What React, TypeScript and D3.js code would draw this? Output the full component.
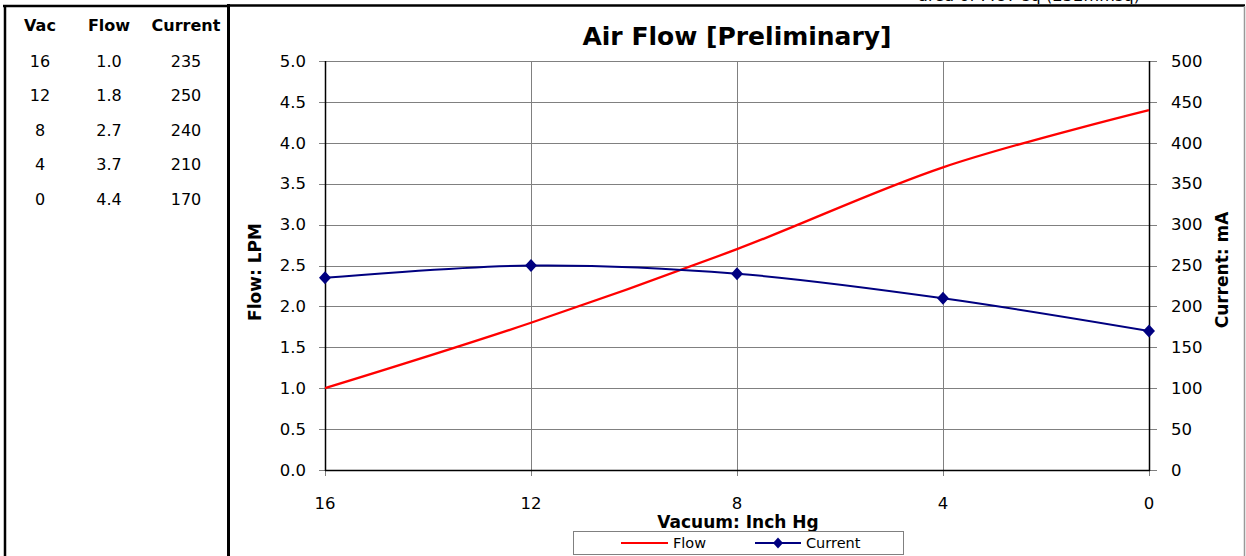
import React from "react";
import * as d3 from "d3";

// chart data
const vacuum = [16, 12, 8, 4, 0];
const flow = [1.0, 1.8, 2.7, 3.7, 4.4];
const current = [235, 250, 240, 210, 170];

const flowTicks = [0, 0.5, 1, 1.5, 2, 2.5, 3, 3.5, 4, 4.5, 5];
const currentTicks = [0, 50, 100, 150, 200, 250, 300, 350, 400, 450, 500];
const vacTicks = [16, 12, 8, 4, 0];

const tableHead = ["Vac", "Flow", "Current"];

const W = 1246;
const H = 556;
const FONT = "'DejaVu Sans', Verdana, sans-serif";

export default function App() {
  const x = d3.scaleLinear().domain([16, 0]).range([325, 1149]);
  const yFlow = d3.scaleLinear().domain([0, 5]).range([470, 61]);
  const yCur = d3.scaleLinear().domain([0, 500]).range([470, 61]);

  const smooth = d3.curveCatmullRom.alpha(0);
  const flowLine = d3
    .line<number>()
    .x((d, i) => x(vacuum[i]))
    .y(d => yFlow(d))
    .curve(smooth);
  const curLine = d3
    .line<number>()
    .x((d, i) => x(vacuum[i]))
    .y(d => yCur(d))
    .curve(smooth);

  const diamond = (cx: number, cy: number, r = 6) =>
    `M${cx},${cy - r - 0.5}L${cx + r},${cy}L${cx},${cy + r + 0.5}L${cx - r},${cy}Z`;

  const colX = [40, 109, 186];
  const rowY = d3.range(vacuum.length).map(i => 61 + i * 34.5);

  return (
    <svg
      width={W}
      height={H}
      style={{ position: "absolute", left: 0, top: 0, background: "#fff" }}
      fontFamily={FONT}
    >
      <rect x={0} y={0} width={W} height={H} fill="#fff" />

      {/* note cut off at the top edge, as in the source */}
      <text x={918} y={1} fontSize={16} textLength={222} lengthAdjust="spacing" fill="#000">
        area of .487 sq (232mmsq)
      </text>

      {/* table */}
      <line x1={3} x2={228} y1={6} y2={6} stroke="#000" strokeWidth={2.5} />
      <line x1={5} x2={5} y1={5} y2={H} stroke="#000" strokeWidth={2.5} />
      <line x1={228.5} x2={228.5} y1={4} y2={H} stroke="#000" strokeWidth={3} />
      <line x1={227} x2={1245} y1={5.5} y2={5.5} stroke="#000" strokeWidth={2.5} />
      <line x1={1244.5} x2={1244.5} y1={6} y2={H} stroke="#999" strokeWidth={1.5} />

      {tableHead.map((h, j) => (
        <text key={h} x={colX[j]} y={25} dy="0.35em" textAnchor="middle" fontSize={16} fontWeight="bold">
          {h}
        </text>
      ))}
      {vacuum.map((v, i) => (
        <g key={"row" + i} fontSize={16}>
          <text x={colX[0]} y={rowY[i]} dy="0.35em" textAnchor="middle">{v}</text>
          <text x={colX[1]} y={rowY[i]} dy="0.35em" textAnchor="middle">{flow[i].toFixed(1)}</text>
          <text x={colX[2]} y={rowY[i]} dy="0.35em" textAnchor="middle">{current[i]}</text>
        </g>
      ))}

      {/* title */}
      <text x={737} y={45} textAnchor="middle" fontSize={25} fontWeight="bold">
        Air Flow [Preliminary]
      </text>

      {/* grid */}
      {flowTicks.map(t => (
        <line key={"h" + t} x1={319} x2={1149} y1={Math.round(yFlow(t)) + 0.5} y2={Math.round(yFlow(t)) + 0.5} stroke="#808080" strokeWidth={1} />
      ))}
      {vacTicks.map(t => (
        <line key={"v" + t} x1={Math.round(x(t)) + 0.5} x2={Math.round(x(t)) + 0.5} y1={61} y2={476} stroke="#808080" strokeWidth={1} />
      ))}
      {currentTicks.map(t => (
        <line key={"r" + t} x1={1143} x2={1157} y1={Math.round(yCur(t)) + 0.5} y2={Math.round(yCur(t)) + 0.5} stroke="#808080" strokeWidth={1} />
      ))}

      {/* axes */}
      <line x1={325.5} x2={325.5} y1={61} y2={471} stroke="#000" strokeWidth={1.5} />
      <line x1={1149.5} x2={1149.5} y1={61} y2={471} stroke="#000" strokeWidth={1.5} />
      <line x1={325} x2={1150} y1={470.5} y2={470.5} stroke="#000" strokeWidth={1.5} />

      {/* tick labels */}
      {flowTicks.map(t => (
        <text key={"fl" + t} x={306} y={yFlow(t)} dy="0.35em" textAnchor="end" fontSize={16.5}>
          {t.toFixed(1)}
        </text>
      ))}
      {currentTicks.map(t => (
        <text key={"cl" + t} x={1171} y={yCur(t)} dy="0.35em" textAnchor="start" fontSize={16.5}>
          {t}
        </text>
      ))}
      {vacTicks.map(t => (
        <text key={"xl" + t} x={x(t)} y={503} dy="0.35em" textAnchor="middle" fontSize={16.5}>
          {t}
        </text>
      ))}

      {/* axis titles */}
      <text transform="translate(261,272) rotate(-90)" textAnchor="middle" fontSize={17} fontWeight="bold">
        Flow: LPM
      </text>
      <text transform="translate(1228,270) rotate(-90)" textAnchor="middle" fontSize={17} fontWeight="bold">
        Current: mA
      </text>
      <text x={738} y={528} textAnchor="middle" fontSize={17} fontWeight="bold">
        Vacuum: Inch Hg
      </text>

      {/* series */}
      <path d={flowLine(flow) ?? ""} fill="none" stroke="#ff0000" strokeWidth={2.3} />
      <path d={curLine(current) ?? ""} fill="none" stroke="#000080" strokeWidth={2} />
      {current.map((c, i) => (
        <path key={"m" + i} d={diamond(x(vacuum[i]), yCur(c))} fill="#000080" />
      ))}

      {/* legend */}
      <rect x={573.5} y={531.5} width={330} height={23} fill="#fff" stroke="#808080" strokeWidth={1} />
      <line x1={621} x2={668} y1={543} y2={543} stroke="#ff0000" strokeWidth={2} />
      <text x={673} y={543} dy="0.35em" fontSize={14.5}>Flow</text>
      <line x1={755} x2={801} y1={543} y2={543} stroke="#000080" strokeWidth={2} />
      <path d={diamond(778, 543, 5)} fill="#000080" />
      <text x={806} y={543} dy="0.35em" fontSize={14.5}>Current</text>
    </svg>
  );
}
